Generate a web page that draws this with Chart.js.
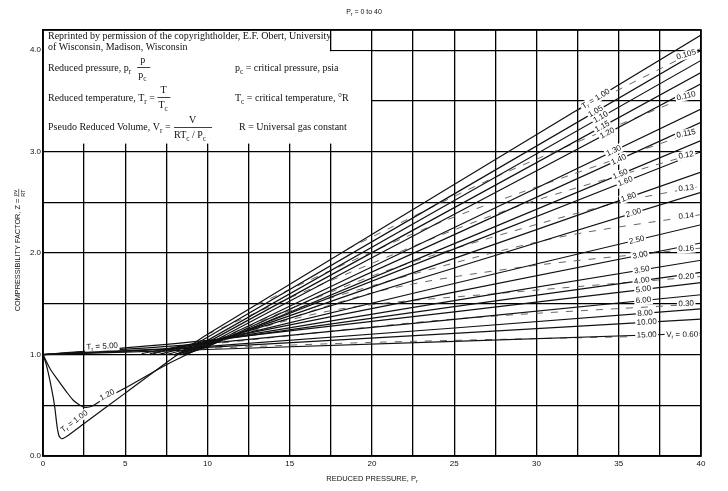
<!DOCTYPE html>
<html><head><meta charset="utf-8">
<script src="https://cdn.jsdelivr.net/npm/chart.js@4/dist/chart.umd.min.js"></script>
<style>html,body{margin:0;padding:0;background:#fff}#wrap{width:728px;height:491px}</style>
</head><body><div id="wrap"><canvas id="c" width="728" height="491"></canvas></div>
<script>
// ---------- DATA ----------
const prTickLabels = [0,5,10,15,20,25,30,35,40];
const zTickLabels = [0,1,2,3,4];

// Isotherms (Pr, Z)
const tr100 = [[0,1.0],[0.2,0.9],[0.45,0.72],[0.7,0.5],[0.85,0.3],[0.97,0.2],[1.15,0.17],[1.5,0.2],[2.5,0.32],[5,0.62],[7.5,0.92],[10,1.2],[40,4.15]];
const tr105 = [[8,0.99],[10,1.17],[40,4.00]];
const tr110 = [[8.2,1.0],[10,1.14],[40,3.90]];
const tr115 = [[8.4,1.0],[10,1.12],[40,3.78]];
const tr120 = [[0,1.0],[0.43,0.86],[0.9,0.75],[1.44,0.63],[1.84,0.55],[2.25,0.5],[2.55,0.48],[2.97,0.49],[3.47,0.54],[5,0.67],[7.5,0.9],[10,1.1],[40,3.67]];
const tr130 = [[8.5,1.0],[10,1.09],[40,3.42]];
const tr140 = [[8.5,1.0],[10,1.08],[40,3.29]];
const tr150 = [[8.5,1.0],[10,1.08],[40,3.11]];
const tr160 = [[8,1.0],[10,1.09],[40,3.00]];
const tr180 = [[8,1.0],[10,1.10],[40,2.80]];
const tr200 = [[7.5,1.0],[10,1.11],[40,2.60]];
const tr250 = [[7,1.0],[10,1.12],[40,2.28]];
const tr300 = [[6.5,1.0],[10,1.13],[40,2.10]];
const tr350 = [[6.5,1.01],[10,1.13],[40,1.93]];
const tr400 = [[6,1.01],[10,1.13],[40,1.81]];
const tr500 = [[0,1.0],[10,1.14],[40,1.71]];
const tr600 = [[0,1.0],[10,1.11],[40,1.59]];
const tr800 = [[0,1.0],[10,1.08],[40,1.45]];
const tr1000 = [[0,1.0],[10,1.07],[40,1.35]];
const tr1500 = [[0,1.0],[10,1.05],[40,1.21]];
const isotherms = [tr100,tr105,tr110,tr115,tr120,tr130,tr140,tr150,tr160,tr180,tr200,tr250,tr300,tr350,tr400,tr500,tr600,tr800,tr1000,tr1500];
const trNames = ['1.00','1.05','1.10','1.15','1.20','1.30','1.40','1.50','1.60','1.80','2.00','2.50','3.00','3.50','4.00','5.00','6.00','8.00','10.00','15.00'];
const trLabelPr = [33.6,33.6,33.9,34.0,34.3,34.7,35.0,35.1,35.4,35.6,35.9,36.1,36.3,36.4,36.4,36.5,36.5,36.6,36.7,36.7];

// Constant pseudo-reduced-volume lines (dashed)
const vr0105 = [[32.4,3.40],[40,4.02]];
const vr0110 = [[18.5,2.04],[27.5,2.75],[40,3.6]];
const vr0115 = [[13,1.49],[17.5,1.83],[23.8,2.28],[29.1,2.6],[40,3.22]];
const vr012 = [[10,1.2],[16.9,1.69],[28.3,2.43],[40,3.0]];
const vr013 = [[10.7,1.16],[21.3,1.85],[34.2,2.47],[40,2.66]];
const vr014 = [[10.5,1.13],[15.7,1.47],[30.3,2.12],[40,2.38]];
const vr016 = [[11,1.14],[20.3,1.62],[29,1.86],[40,2.05]];
const vr020 = [[10,1.13],[18.1,1.45],[28.2,1.61],[40,1.77]];
const vr030 = [[10,1.1],[25,1.35],[40,1.5]];
const vr060 = [[5,1.03],[20,1.12],[40,1.19]];
const vrLines = [vr0105,vr0110,vr0115,vr012,vr013,vr014,vr016,vr020,vr030,vr060];
const vrNames = ['0.105','0.110','0.115','0.12','0.13','0.14','0.16','0.20','0.30','0.60'];

// ---------- CHART ----------
const pts = a => a.map(p => ({x:p[0], y:p[1]}));
const datasets = [];
isotherms.forEach((d,i) => datasets.push({label:'Tr '+trNames[i], data:pts(d), borderColor:'#111', borderWidth:1.2, pointRadius:0, tension:0.25, showLine:true, fill:false}));
vrLines.forEach((d,i) => datasets.push({label:'Vr '+vrNames[i], data:pts(d), borderColor:'#555', borderWidth:0.9, borderDash:[7,8], pointRadius:0, tension:0.3, showLine:true, fill:false}));

const SANS = "'Liberation Sans', Arial, sans-serif";
const SERIF = "'Liberation Serif', 'Times New Roman', serif";

function rich(ctx, parts, x, y, size, family, align){
  let w = 0;
  parts.forEach(p => { ctx.font = (p[1] ? size*0.72 : size) + 'px ' + family; w += ctx.measureText(p[0]).width; });
  let cx = align === 'center' ? x - w/2 : (align === 'right' ? x - w : x);
  parts.forEach(p => {
    const s = p[1] ? size*0.72 : size;
    ctx.font = s + 'px ' + family;
    ctx.fillText(p[0], cx, y + (p[1] ? size*0.3 : 0));
    cx += ctx.measureText(p[0]).width;
  });
  return w;
}
function angleAt(data, pr, xs, ys){
  let i = 0;
  while (i < data.length-2 && data[i+1][0] < pr) i++;
  const dx = xs.getPixelForValue(data[i+1][0]) - xs.getPixelForValue(data[i][0]);
  const dy = ys.getPixelForValue(data[i+1][1]) - ys.getPixelForValue(data[i][1]);
  return Math.atan2(dy, dx);
}
function label(ctx, parts, px, py, ang, size){
  ctx.save();
  ctx.translate(px, py); ctx.rotate(ang);
  ctx.textBaseline = 'middle';
  let w = 0;
  parts.forEach(p => { ctx.font = (p[1] ? size*0.72 : size) + 'px ' + SANS; w += ctx.measureText(p[0]).width; });
  ctx.fillStyle = '#fff';
  ctx.fillRect(-w/2-1.5, -size/2-0.5, w+3, size+1);
  ctx.fillStyle = '#111';
  rich(ctx, parts, 0, 0, size, SANS, 'center');
  ctx.restore();
}

const deco = {
  id:'deco',
  beforeDatasetsDraw(chart){
    const {ctx, chartArea:a, scales:{x, y}} = chart;
    const xr1 = x.getPixelForValue(17.5), xr2 = x.getPixelForValue(20);
    const y4 = y.getPixelForValue(4.0), yb = y.getPixelForValue(3.08);
    ctx.save();
    ctx.fillStyle = '#fff';
    ctx.fillRect(a.left+1, a.top+1, xr1 - a.left - 2, y4 - a.top + 1);
    ctx.fillRect(a.left+1, y4 + 1, xr2 - a.left - 2, yb - y4 - 1);
    ctx.fillStyle = '#111';
    ctx.textBaseline = 'alphabetic';
    const L = a.left + 5, T = a.top;
    const fs = 10;
    ctx.font = fs + 'px ' + SERIF;
    ctx.fillText('Reprinted by permission of the copyrightholder, E.F. Obert, University', L, T+9);
    ctx.fillText('of Wisconsin, Madison, Wisconsin', L, T+20);
    // reduced pressure
    let w = rich(ctx, [['Reduced pressure, p',0],['r',1]], L, T+41, fs, SERIF, 'left');
    let fx = L + w + 7;
    ctx.font = fs + 'px ' + SERIF;
    ctx.fillText('p', fx+2, T+33);
    ctx.fillRect(fx-1, T+37, 13, 0.8);
    rich(ctx, [['p',0],['c',1]], fx, T+48, fs, SERIF, 'left');
    rich(ctx, [['p',0],['c',1],[' = critical pressure, psia',0]], L+187, T+41, fs, SERIF, 'left');
    // reduced temperature
    w = rich(ctx, [['Reduced temperature, T',0],['r',1],[' = ',0]], L, T+71, fs, SERIF, 'left');
    fx = L + w + 1;
    ctx.font = fs + 'px ' + SERIF;
    ctx.fillText('T', fx+2, T+63);
    ctx.fillRect(fx-1, T+67, 13, 0.8);
    rich(ctx, [['T',0],['c',1]], fx, T+78, fs, SERIF, 'left');
    rich(ctx, [['T',0],['c',1],[' = critical temperature, \u00B0R',0]], L+187, T+71, fs, SERIF, 'left');
    // pseudo reduced volume
    w = rich(ctx, [['Pseudo Reduced Volume, V',0],['r',1],[' = ',0]], L, T+100, fs, SERIF, 'left');
    fx = L + w + 1;
    ctx.font = fs + 'px ' + SERIF;
    ctx.fillText('V', fx+15, T+93);
    ctx.fillRect(fx, T+97, 38, 0.8);
    rich(ctx, [['RT',0],['c',1],[' / P',0],['c',1]], fx, T+108, fs, SERIF, 'left');
    ctx.font = fs + 'px ' + SERIF;
    ctx.fillText('R = Universal gas constant', L+191, T+100);
    ctx.restore();
  },
  afterDatasetsDraw(chart){
    const {ctx, chartArea:a, scales:{x, y}} = chart;
    // isotherm labels at right
    isotherms.forEach((d,i) => {
      const pr = trLabelPr[i];
      let zi = d[d.length-2], zj = d[d.length-1];
      const z = zi[1] + (zj[1]-zi[1])*(pr-zi[0])/(zj[0]-zi[0]);
      const ang = angleAt(d, pr, x, y);
      const parts = i === 0 ? [['T',0],['r',1],[' = '+trNames[i],0]] : [[trNames[i],0]];
      label(ctx, parts, x.getPixelForValue(pr), y.getPixelForValue(z), ang, 8);
    });
    // low-pressure labels
    label(ctx, [['T',0],['r',1],[' = 5.00',0]], x.getPixelForValue(3.6), y.getPixelForValue(1.08), angleAt(tr500, 3.6, x, y)*0.6, 8);
    label(ctx, [['1.20',0]], x.getPixelForValue(3.9), y.getPixelForValue(0.6), angleAt(tr120, 4, x, y), 8);
    label(ctx, [['T',0],['r',1],[' = 1.00',0]], x.getPixelForValue(1.9), y.getPixelForValue(0.34), angleAt(tr100, 2, x, y), 8);
    // Vr labels at right edge
    vrLines.forEach((d,i) => {
      const pr = i === 9 ? 38.85 : 39.1;
      const zi = d[d.length-2], zj = d[d.length-1];
      const z = zi[1] + (zj[1]-zi[1])*(pr-zi[0])/(zj[0]-zi[0]);
      const ang = angleAt(d, pr, x, y)*0.6;
      const parts = i === 9 ? [['V',0],['r',1],[' = 0.60',0]] : [[vrNames[i],0]];
      label(ctx, parts, x.getPixelForValue(pr), y.getPixelForValue(z)-1, ang, 8);
    });
    // frame
    ctx.save();
    ctx.strokeStyle = '#000'; ctx.lineWidth = 1.6;
    ctx.strokeRect(a.left, a.top, a.right - a.left, a.bottom - a.top);
    ctx.restore();
  },
  afterDraw(chart){
    const {ctx, chartArea:a} = chart;
    ctx.save();
    ctx.fillStyle = '#111';
    ctx.textBaseline = 'alphabetic';
    rich(ctx, [['P',0],['r',1],[' = 0 to 40',0]], 364, 14, 7, SANS, 'center');
    rich(ctx, [['REDUCED PRESSURE, P',0],['r',1]], (a.left + a.right)/2, a.bottom + 25, 7.5, SANS, 'center');
    ctx.translate(20, (a.top + a.bottom)/2 + 6);
    ctx.rotate(-Math.PI/2);
    ctx.font = '7.3px ' + SANS;
    const t = 'COMPRESSIBILITY FACTOR, Z = ';
    const tw = ctx.measureText(t).width;
    ctx.fillText(t, -(tw+10)/2, 0);
    ctx.font = '5.5px ' + SANS;
    ctx.fillText('pv', -(tw+10)/2 + tw + 1, -3);
    ctx.fillRect(-(tw+10)/2 + tw, -1.5, 8, 0.6);
    ctx.fillText('RT', -(tw+10)/2 + tw, 4.5);
    ctx.restore();
  }
};

new Chart(document.getElementById('c'), {
  type:'scatter',
  data:{datasets},
  options:{
    responsive:false, animation:false, devicePixelRatio:1,
    layout:{padding:{left:0, right:27, top:30, bottom:0}},
    plugins:{legend:{display:false}, tooltip:{enabled:false}, title:{display:false}},
    scales:{
      x:{type:'linear', min:0, max:40,
         ticks:{stepSize:2.5, autoSkip:false, maxRotation:0, padding:3, color:'#111', font:{family:SANS, size:8},
                callback:v => prTickLabels.includes(v) ? String(v) : ''},
         grid:{color:'#000', lineWidth:1.3, drawTicks:false},
         border:{display:true, color:'#000', width:1.6},
         afterFit:s => { s.height = 35; }},
      y:{type:'linear', min:0, max:4.2,
         ticks:{stepSize:0.5, autoSkip:false, padding:2, color:'#111', font:{family:SANS, size:8},
                callback:v => zTickLabels.includes(v) ? v.toFixed(1) : ''},
         grid:{color:'#000', lineWidth:1.3, drawTicks:false},
         border:{display:true, color:'#000', width:1.6},
         afterFit:s => { s.width = 43; }}
    }
  },
  plugins:[deco]
});
</script>
</body></html>
